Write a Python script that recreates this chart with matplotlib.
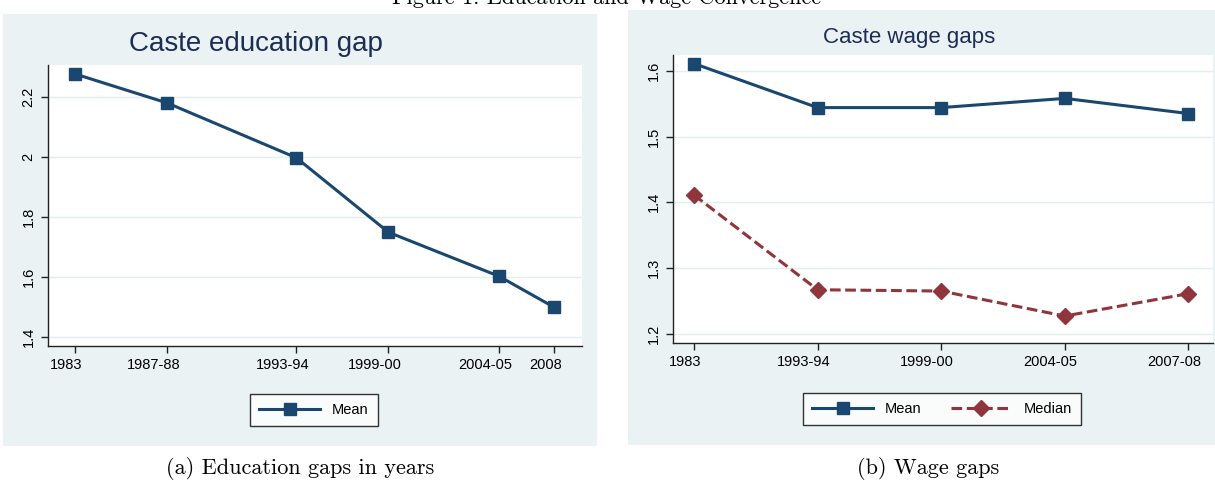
import numpy as np
import matplotlib
matplotlib.use("Agg")
import matplotlib.pyplot as plt
import matplotlib.transforms as mtransforms
from matplotlib.patches import Rectangle
from matplotlib.lines import Line2D

# panel (a): education gap by NSS round
edu_rounds = [38, 43, 50, 55, 61, 64]
edu_labels = ["1983", "1987-88", "1993-94", "1999-00", "2004-05", "2008"]
edu_mean = [2.278, 2.181, 1.998, 1.749, 1.602, 1.498]

# panel (b): wage gaps
wage_labels = ["1983", "1993-94", "1999-00", "2004-05", "2007-08"]
wage_mean = [1.611, 1.544, 1.544, 1.558, 1.535]
wage_median = [1.411, 1.267, 1.265, 1.227, 1.261]

NAVY = "#1a476f"
MAROON = "#90353b"
BG = "#eaf2f3"
TITLE_C = "#1e2d55"
SANS = ["Liberation Sans", "DejaVu Sans"]

plt.rcParams["font.family"] = SANS

fig = plt.figure(figsize=(12.15, 4.83), dpi=100)


def px(x0, y0, x1, y1):
    # pixel box (top-left origin) -> figure fraction [l, b, w, h]
    W, H = 1215.0, 483.0
    return [x0 / W, 1 - y1 / H, (x1 - x0) / W, (y1 - y0) / H]


def style_axes(ax):
    ax.set_facecolor("white")
    for s in ("top", "right"):
        ax.spines[s].set_visible(False)
    for s in ("left", "bottom"):
        ax.spines[s].set_color("#222222")
        ax.spines[s].set_linewidth(1.0)
    ax.grid(axis="y", color="#e4eeee", linewidth=1.0)
    ax.set_axisbelow(True)
    ax.tick_params(axis="both", colors="#222222", labelcolor="black",
                   labelsize=10.5, length=5, width=1.0)
    plt.setp(ax.get_yticklabels(), rotation=90, va="center")
    # stata output sits the x labels a little left of their ticks
    for lab in ax.get_xticklabels():
        dx = -9 if len(lab.get_text()) <= 4 else -14
        lab.set_transform(lab.get_transform() +
                          mtransforms.ScaledTranslation(dx / 100, 0, fig.dpi_scale_trans))


# graph region backgrounds
for box in (px(3, 14, 597, 446), px(628, 10, 1215, 445)):
    fig.patches.append(Rectangle((box[0], box[1]), box[2], box[3],
                                 transform=fig.transFigure, facecolor=BG,
                                 edgecolor="none", zorder=-1))

# ---- panel (a)
ax1 = fig.add_axes(px(47.5, 65, 582, 346))
ax1.plot(edu_rounds, edu_mean, color=NAVY, linewidth=2.2, marker="s",
         markersize=9, markerfacecolor=NAVY, markeredgecolor=NAVY)
ax1.set_xlim(36.5, 65.5)
ax1.set_ylim(1.369, 2.308)
ax1.set_xticks(edu_rounds)
ax1.set_xticklabels(edu_labels)
ax1.set_yticks([1.4, 1.6, 1.8, 2.0, 2.2])
ax1.set_yticklabels(["1.4", "1.6", "1.8", "2", "2.2"])
style_axes(ax1)
fig.text(256 / 1215, 1 - 44 / 483, "Caste education gap", ha="center",
         va="center", fontsize=20, color=TITLE_C)
leg1 = ax1.legend(handles=[Line2D([], [], color=NAVY, linewidth=2.2, marker="s",
                                  markersize=9, label="Mean")],
                  loc="center", bbox_to_anchor=(314 / 1215, 1 - 410 / 483),
                  bbox_transform=fig.transFigure, fontsize=10.5, frameon=True,
                  fancybox=False, edgecolor="black", handlelength=4.2,
                  borderpad=0.6)
leg1.get_frame().set_linewidth(1.0)

# ---- panel (b)
wx = np.arange(1, len(wage_labels) + 1)
ax2 = fig.add_axes(px(672.5, 55, 1213, 343))
ax2.plot(wx, wage_mean, color=NAVY, linewidth=2.2, marker="s",
         markersize=9, label="Mean")
ax2.plot(wx, wage_median, color=MAROON, linewidth=2.2, linestyle=(0, (3.5, 1.5)),
         marker="D", markersize=8, label="Median")
ax2.set_xlim(0.826, 5.2)
ax2.set_ylim(1.186, 1.624)
ax2.set_xticks(wx)
ax2.set_xticklabels(wage_labels)
ax2.set_yticks([1.2, 1.3, 1.4, 1.5, 1.6])
style_axes(ax2)
fig.text(909 / 1215, 1 - 38 / 483, "Caste wage gaps", ha="center",
         va="center", fontsize=16, color=TITLE_C)
leg2 = ax2.legend(loc="center", bbox_to_anchor=(942 / 1215, 1 - 409 / 483),
                  bbox_transform=fig.transFigure, ncol=2, fontsize=10.5,
                  frameon=True, fancybox=False, edgecolor="black",
                  handlelength=4.2, borderpad=0.6, columnspacing=2.0)
leg2.get_frame().set_linewidth(1.0)

# captions and (clipped, as in the source page) figure title
CM = ["cmr10", "DejaVu Serif"]
fig.text(300 / 1215, 1 - 468 / 483, "(a) Education gaps in years", ha="center",
         va="center", fontsize=16, family=CM)
fig.text(928 / 1215, 1 - 468 / 483, "(b) Wage gaps", ha="center",
         va="center", fontsize=16, family=CM)
fig.text(607 / 1215, 1 - 4 / 483, "Figure 1: Education and Wage Convergence",
         ha="center", va="baseline", fontsize=16, family=CM)

fig.savefig("out.png", dpi=100)
